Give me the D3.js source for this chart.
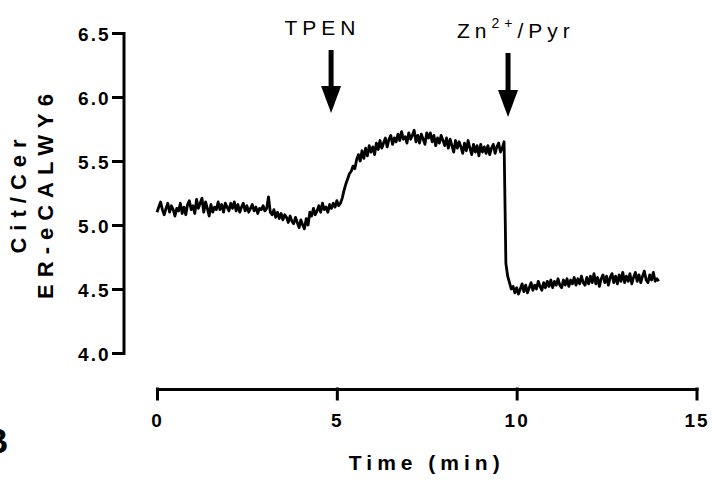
<!DOCTYPE html>
<html>
<head>
<meta charset="utf-8">
<script src="https://cdn.jsdelivr.net/npm/d3@7"></script>
<style>
    body { margin: 0; background: white; }
    svg { display: block; }
</style>
</head>
<body>
<svg id="my-svg"></svg>
<script>
const timeStep = 0.05;
const ratio = [
    5.10, 5.14, 5.18, 5.12, 5.08, 5.13, 5.17, 5.10, 5.15, 5.12, 5.07, 5.13, 5.11, 5.17, 5.09, 5.14, 5.08, 5.16, 5.19, 5.12,
    5.15, 5.09, 5.20, 5.13, 5.17, 5.21, 5.10, 5.18, 5.13, 5.07, 5.16, 5.10, 5.14, 5.12, 5.18, 5.12, 5.16, 5.10, 5.17, 5.14,
    5.11, 5.17, 5.13, 5.18, 5.11, 5.16, 5.10, 5.14, 5.17, 5.11, 5.15, 5.10, 5.13, 5.16, 5.11, 5.14, 5.09, 5.13, 5.12, 5.15,
    5.11, 5.13, 5.22, 5.10, 5.08, 5.12, 5.06, 5.10, 5.05, 5.09, 5.04, 5.08, 5.06, 5.02, 5.07, 5.03, 5.01, 5.06, 5.02, 4.98,
    5.04, 5.00, 4.97, 5.05, 5.00, 5.10, 5.07, 5.13, 5.08, 5.11, 5.15, 5.10, 5.17, 5.12, 5.14, 5.10, 5.16, 5.13, 5.17, 5.14,
    5.19, 5.15, 5.17, 5.21, 5.27, 5.32, 5.36, 5.40, 5.42, 5.46, 5.44, 5.51, 5.55, 5.50, 5.58, 5.52, 5.60, 5.54, 5.62, 5.57,
    5.61, 5.55, 5.64, 5.59, 5.66, 5.60, 5.64, 5.68, 5.61, 5.67, 5.70, 5.63, 5.68, 5.65, 5.71, 5.66, 5.73, 5.67, 5.69, 5.64,
    5.72, 5.67, 5.70, 5.74, 5.65, 5.70, 5.64, 5.71, 5.67, 5.63, 5.72, 5.68, 5.72, 5.65, 5.70, 5.62, 5.68, 5.64, 5.70, 5.66,
    5.62, 5.68, 5.60, 5.67, 5.62, 5.57, 5.66, 5.60, 5.65, 5.61, 5.56, 5.64, 5.58, 5.66, 5.60, 5.55, 5.63, 5.57, 5.62, 5.54,
    5.63, 5.57, 5.61, 5.56, 5.62, 5.55, 5.60, 5.63, 5.56, 5.61, 5.64, 5.57, 5.60, 5.65, 4.70, 4.60, 4.55, 4.50, 4.52, 4.47,
    4.51, 4.46, 4.50, 4.54, 4.48, 4.53, 4.47, 4.51, 4.55, 4.49, 4.53, 4.50, 4.56, 4.52, 4.49, 4.55, 4.51, 4.56, 4.52, 4.57,
    4.51, 4.56, 4.53, 4.58, 4.53, 4.51, 4.57, 4.53, 4.58, 4.52, 4.57, 4.54, 4.59, 4.53, 4.58, 4.54, 4.60, 4.55, 4.53, 4.59,
    4.54, 4.60, 4.55, 4.62, 4.54, 4.59, 4.52, 4.58, 4.61, 4.55, 4.60, 4.53, 4.59, 4.62, 4.55, 4.60, 4.54, 4.61, 4.56, 4.63,
    4.55, 4.60, 4.56, 4.62, 4.54, 4.59, 4.63, 4.56, 4.61, 4.55, 4.60, 4.64, 4.57, 4.55, 4.61, 4.57, 4.63, 4.56, 4.58, 4.56
];
const xTicks = [0, 5, 10, 15];
const yTicks = [4.0, 4.5, 5.0, 5.5, 6.0, 6.5];

// stimulus arrows: time of arrow, tip / top values, label position
const arrowTimes = [4.84, 9.76];
const arrowTips = [5.875, 5.844];
const arrowTops = [6.367, 6.344];
const labelTimes = [4.6, 9.98];
const labelValues = [6.484, 6.461];
const labelParts = [["TPEN", "", ""], ["Zn", "2+", "/Pyr"]];

const width = 712;
const height = 484;
const margin = { top: 33, right: 15.5, bottom: 131, left: 157 };
const innerWidth = width - margin.left - margin.right;
const innerHeight = height - margin.top - margin.bottom;
const font = "'Liberation Sans', Arial, sans-serif";

const svg = d3.select("#my-svg")
    .attr("width", width)
    .attr("height", height);

const g = svg.append("g")
    .attr("transform", `translate(${margin.left},${margin.top})`);

const x = d3.scaleLinear()
    .domain([0, 15])
    .range([0, innerWidth]);

const y = d3.scaleLinear()
    .domain([4, 6.5])
    .range([innerHeight, 0]);

const series = ratio.map((v, i) => ({ t: i * timeStep, v: v }));

// y axis, offset left of the plot
const yAxis = g.append("g")
    .attr("transform", "translate(-33.5,0)")
    .call(d3.axisLeft(y)
        .tickValues(yTicks)
        .tickFormat(d3.format(".1f"))
        .tickSize(10)
        .tickSizeOuter(0)
        .tickPadding(3));

// x axis, offset below the plot
const xAxis = g.append("g")
    .attr("transform", `translate(0,${innerHeight + 36})`)
    .call(d3.axisBottom(x)
        .tickValues(xTicks)
        .tickSize(10)
        .tickSizeOuter(0)
        .tickPadding(15));

g.selectAll(".domain, .tick line")
    .style("stroke", "black")
    .style("stroke-width", 3)
    .style("stroke-linecap", "square");

g.selectAll(".tick text")
    .style("font-family", font)
    .style("font-weight", "bold")
    .style("font-size", "19px")
    .style("letter-spacing", "2px")
    .style("fill", "black");

yAxis.selectAll(".tick text").attr("dy", "0.42em");

const line = d3.line()
    .x(d => x(d.t))
    .y(d => y(d.v));

g.append("path")
    .datum(series)
    .attr("d", line)
    .style("fill", "none")
    .style("stroke", "black")
    .style("stroke-width", 2.8)
    .style("stroke-linejoin", "round");

// arrows
arrowTimes.forEach((t, i) => {
    const ax = x(t);
    const tip = y(arrowTips[i]);
    const top = y(arrowTops[i]);
    const head = 27;
    g.append("line")
        .attr("x1", ax).attr("x2", ax)
        .attr("y1", top).attr("y2", tip - head + 2)
        .style("stroke", "black")
        .style("stroke-width", 5);
    g.append("path")
        .attr("d", `M${ax - 10},${tip - head}L${ax + 10},${tip - head}L${ax},${tip}Z`)
        .style("fill", "black");

    const label = g.append("text")
        .attr("x", x(labelTimes[i]))
        .attr("y", y(labelValues[i]))
        .attr("text-anchor", "middle")
        .style("font-family", font)
        .style("font-size", "21px")
        .style("letter-spacing", "5px")
        .style("fill", "black");
    label.append("tspan").text(labelParts[i][0]);
    if (labelParts[i][1]) {
        label.append("tspan")
            .attr("dy", -10)
            .style("font-size", "14px")
            .text(labelParts[i][1]);
        label.append("tspan")
            .attr("dy", 10)
            .text(labelParts[i][2]);
    }
});

// axis titles
svg.append("text")
    .attr("x", margin.left + innerWidth / 2)
    .attr("y", 470)
    .attr("text-anchor", "middle")
    .style("font-family", font)
    .style("font-weight", "bold")
    .style("font-size", "21px")
    .style("letter-spacing", "5px")
    .text("Time (min)");

const yTitles = ["Cit/Cer", "ER-eCALWY6"];
const yTitleX = [26, 53];
yTitles.forEach((s, i) => {
    svg.append("text")
        .attr("transform", `translate(${yTitleX[i]},${margin.top + innerHeight / 2}) rotate(-90)`)
        .attr("text-anchor", "middle")
        .style("font-family", font)
        .style("font-weight", "bold")
        .style("font-size", "22px")
        .style("letter-spacing", "7px")
        .text(s);
});

// panel letter, cut off at the left edge
svg.append("text")
    .attr("x", -17)
    .attr("y", 453)
    .style("font-family", font)
    .style("font-weight", "bold")
    .style("font-size", "35px")
    .text("B");
</script>
</body>
</html>
